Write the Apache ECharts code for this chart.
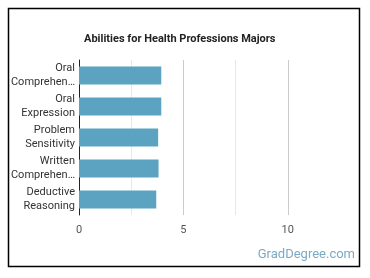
<!DOCTYPE html>
<html>
<head>
<meta charset="utf-8">
<script src="https://cdn.jsdelivr.net/npm/echarts@6/dist/echarts.min.js"></script>
<style>
  html, body { margin: 0; padding: 0; background: #fff; }
  #chartsdiv { width: 370px; height: 278px; }
</style>
</head>
<body>
<div id="chartsdiv"></div>
<script>
// 数据
var categories = ['Oral\nComprehen…', 'Oral\nExpression', 'Problem\nSensitivity', 'Written\nComprehen…', 'Deductive\nReasoning'];
var values = [3.94, 3.94, 3.79, 3.81, 3.70];
var tickLabels = ['0', '5', '10'];

var myChart = echarts.init(document.getElementById('chartsdiv'));
var option = {
    animation: false,
    title: {
        text: 'Abilities for Health Professions Majors',
        left: 79,
        top: 29,
        textStyle: {
            fontFamily: 'Roboto',
            fontSize: 11,
            fontWeight: 'bold',
            color: '#222'
        }
    },
    graphic: [
        {
            type: 'rect',
            shape: { x: 8.5, y: 8.5, width: 351, height: 258 },
            style: { fill: 'none', stroke: '#000', lineWidth: 1.5 },
            z: 10
        },
        {
            type: 'text',
            right: 15,
            top: 248,
            style: {
                text: 'GradDegree.com',
                fontFamily: 'Roboto',
                fontSize: 13,
                fill: '#7ba9c6'
            }
        }
    ],
    grid: {
        left: 79,
        right: 30,
        top: 60,
        bottom: 63
    },
    xAxis: {
        type: 'value',
        min: 0,
        max: 12.5,
        interval: 2.5,
        axisLine: { show: false },
        axisTick: { show: false },
        axisLabel: {
            fontFamily: 'Roboto',
            fontSize: 11,
            color: '#555',
            margin: 10,
            formatter: function (v) {
                return tickLabels.indexOf(String(v)) >= 0 ? String(v) : '';
            }
        },
        splitLine: {
            lineStyle: {
                color: ['transparent', '#e8e8e8', '#cccccc', '#e8e8e8', '#cccccc', 'transparent'],
                width: 1
            }
        }
    },
    yAxis: {
        type: 'category',
        inverse: true,
        data: categories,
        axisLine: { show: true, lineStyle: { color: '#222', width: 1 } },
        axisTick: { show: false },
        axisLabel: {
            fontFamily: 'Roboto',
            fontSize: 11,
            color: '#333',
            lineHeight: 14,
            margin: 4,
            align: 'right'
        }
    },
    series: [
        {
            type: 'bar',
            data: values,
            barCategoryGap: '42%',
            itemStyle: { color: '#5ba3c1' },
            silent: true
        }
    ]
};
myChart.setOption(option);
</script>
</body>
</html>
